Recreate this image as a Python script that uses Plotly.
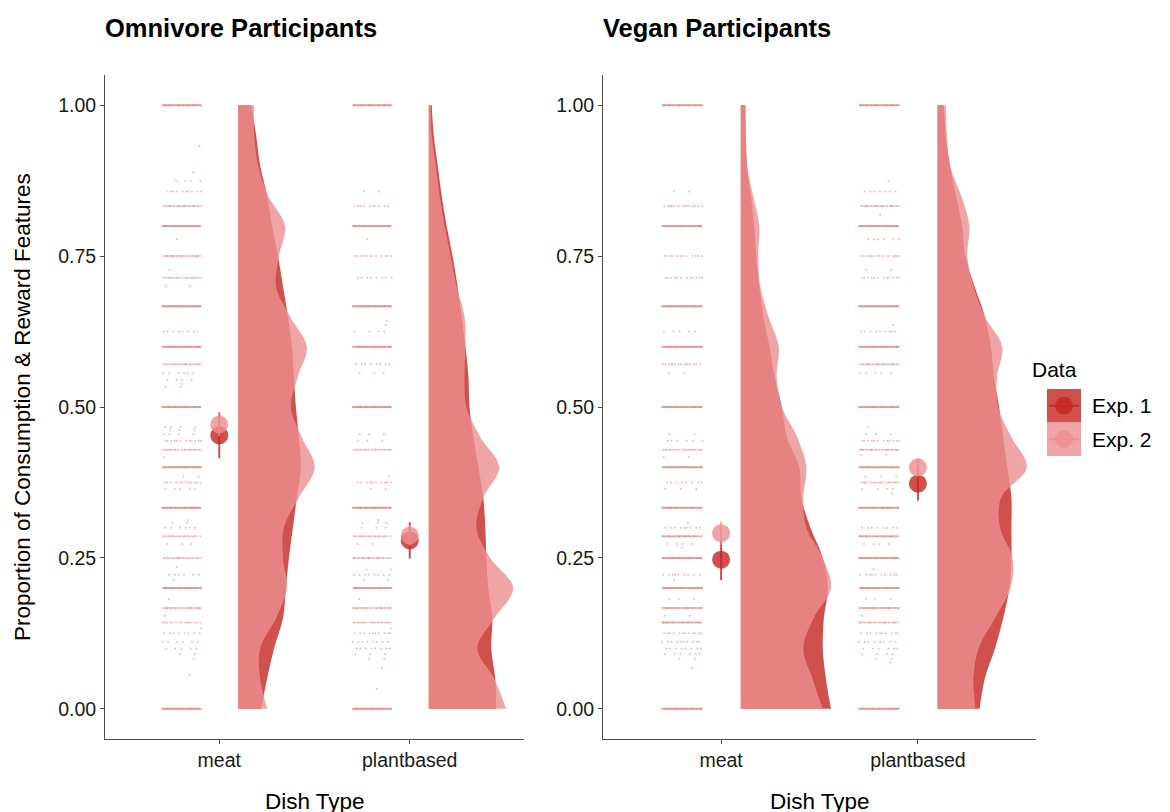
import plotly.graph_objects as go

# ---------------- data ----------------
categories = ["meat", "plantbased"]
panel_titles = ["Omnivore Participants", "Vegan Participants"]
exp_names = ["Exp. 1", "Exp. 2"]
y_ticks = [0.0, 0.25, 0.5, 0.75, 1.0]
y_ticktext = ["0.00", "0.25", "0.50", "0.75", "1.00"]

# raw observations: value levels and number of participants at each level
om_meat_vals = [1.0, 0.933, 0.889, 0.875, 0.857, 0.833, 0.8, 0.778, 0.75, 0.727, 0.714, 0.7, 0.667, 0.625, 0.6,
                0.571, 0.556, 0.545, 0.538, 0.533, 0.5, 0.467, 0.462, 0.455, 0.444, 0.429, 0.417, 0.4, 0.385,
                0.375, 0.364, 0.333, 0.313, 0.308, 0.3, 0.286, 0.273, 0.25, 0.235, 0.222, 0.214, 0.2, 0.182,
                0.167, 0.154, 0.143, 0.133, 0.125, 0.111, 0.1, 0.091, 0.083, 0.056, 0.0]
om_meat_n = [60, 1, 1, 4, 10, 25, 60, 1, 25, 1, 20, 2, 60, 8, 60, 22, 6, 4, 1, 2, 60, 4, 3, 4, 12, 20, 1, 60, 2,
             12, 5, 60, 1, 2, 6, 20, 3, 22, 1, 6, 1, 60, 1, 25, 1, 15, 1, 8, 6, 5, 2, 1, 1, 60]

om_plant_vals = [1.0, 0.857, 0.833, 0.8, 0.778, 0.75, 0.714, 0.667, 0.643, 0.636, 0.625, 0.6, 0.571, 0.556, 0.5,
                 0.455, 0.444, 0.429, 0.385, 0.375, 0.364, 0.333, 0.313, 0.308, 0.3, 0.286, 0.273, 0.25, 0.231,
                 0.222, 0.214, 0.2, 0.182, 0.167, 0.143, 0.133, 0.125, 0.111, 0.1, 0.091, 0.083, 0.067, 0.033, 0.0]
om_plant_n = [60, 2, 10, 60, 1, 12, 8, 60, 1, 1, 4, 60, 8, 3, 60, 3, 3, 20, 1, 10, 2, 60, 1, 3, 3, 20, 2, 25, 2,
              8, 2, 60, 1, 25, 20, 1, 10, 8, 8, 3, 2, 1, 1, 60]

vg_meat_vals = [1.0, 0.857, 0.833, 0.8, 0.75, 0.714, 0.667, 0.625, 0.6, 0.571, 0.556, 0.5, 0.455, 0.444, 0.429,
                0.417, 0.4, 0.375, 0.364, 0.333, 0.308, 0.3, 0.286, 0.273, 0.267, 0.25, 0.222, 0.214, 0.2, 0.182,
                0.167, 0.154, 0.143, 0.125, 0.111, 0.1, 0.091, 0.083, 0.067, 0.0]
vg_meat_n = [60, 2, 15, 60, 12, 12, 60, 5, 60, 15, 2, 60, 2, 6, 20, 2, 60, 8, 3, 60, 1, 9, 40, 4, 1, 60, 9, 1, 60,
             3, 40, 2, 40, 12, 10, 8, 6, 2, 1, 60]

vg_plant_vals = [1.0, 0.875, 0.857, 0.833, 0.818, 0.8, 0.778, 0.75, 0.727, 0.714, 0.667, 0.636, 0.625, 0.6, 0.571,
                 0.556, 0.5, 0.467, 0.455, 0.444, 0.429, 0.421, 0.4, 0.385, 0.375, 0.364, 0.357, 0.333, 0.3, 0.286,
                 0.273, 0.25, 0.231, 0.222, 0.2, 0.182, 0.167, 0.154, 0.143, 0.125, 0.111, 0.1, 0.091, 0.083,
                 0.077, 0.0]
vg_plant_n = [60, 1, 7, 25, 1, 60, 6, 15, 2, 12, 60, 1, 9, 60, 25, 5, 60, 1, 3, 12, 25, 2, 60, 3, 18, 4, 1, 60, 8,
              40, 4, 60, 1, 10, 60, 3, 40, 1, 25, 10, 8, 6, 4, 2, 1, 60]

# half-violin density profiles (arbitrary units) at these proportion levels
dens_y = [0.00, 0.05, 0.10, 0.15, 0.20, 0.25, 0.30, 0.35, 0.40, 0.45, 0.50,
          0.55, 0.60, 0.65, 0.70, 0.75, 0.80, 0.85, 0.90, 0.95, 1.00]
om_meat_exp1_dens = [23, 29, 36, 45, 48, 51, 55, 59, 63, 61, 58, 56, 54, 50, 45, 40, 34, 29, 22, 18, 13]
om_meat_exp2_dens = [29, 22, 22, 38, 49, 45, 46, 61, 77, 64, 53, 60, 69, 52, 38, 41, 47, 30, 20, 16, 16]
om_plant_exp1_dens = [68, 67, 63, 64, 60, 58, 57, 55, 50, 45, 41, 40, 37, 33, 29, 24, 18, 13, 9, 5, 3]
om_plant_exp2_dens = [78, 66, 49, 66, 85, 62, 48, 55, 71, 52, 38, 36, 37, 36, 28, 22, 16, 11, 7, 3, 2]
vg_meat_exp1_dens = [88, 83, 80, 81, 85, 80, 68, 59, 57, 45, 40, 33, 28, 22, 18, 15, 13, 10, 6, 5, 4]
vg_meat_exp2_dens = [80, 70, 61, 71, 88, 80, 64, 61, 64, 55, 40, 35, 37, 27, 19, 17, 18, 12, 6, 5, 5]
vg_plant_exp1_dens = [41, 46, 56, 64, 70, 72, 72, 72, 68, 64, 60, 55, 52, 46, 36, 27, 24, 18, 12, 8, 6]
vg_plant_exp2_dens = [37, 35, 40, 56, 71, 73, 61, 62, 87, 72, 59, 58, 63, 46, 35, 29, 31, 23, 12, 9, 8]

# means and confidence limits, ordered [meat, plantbased]
om_exp1_mean = [0.453, 0.279]
om_exp1_lo = [0.415, 0.249]
om_exp1_hi = [0.491, 0.309]
om_exp2_mean = [0.471, 0.287]
om_exp2_lo = [0.452, 0.270]
om_exp2_hi = [0.490, 0.305]
vg_exp1_mean = [0.247, 0.373]
vg_exp1_lo = [0.213, 0.345]
vg_exp1_hi = [0.281, 0.401]
vg_exp2_mean = [0.291, 0.400]
vg_exp2_lo = [0.272, 0.385]
vg_exp2_hi = [0.310, 0.415]

# ---------------- styling ----------------
W, H = 1170, 812
OFF = 8  # page body margin of the html page
FONT = "Liberation Sans, Arial, sans-serif"
EXP_COLORS = ["rgba(196,36,31,0.8)", "rgba(235,142,142,0.8)"]
DOT_COLOR = "rgba(232,118,118,0.5)"
DENS_SCALE = 1 / 192.0
VIOLIN_OFFSET = 0.10
JITTER_LEFT = 0.30
JITTER_WIDTH = 0.205
TICK_SIZE = 19.5
TITLE_SIZE = 22.5

panels = [
    dict(x="x", y="y",
         points=[(om_meat_vals, om_meat_n), (om_plant_vals, om_plant_n)],
         dens=[[om_meat_exp1_dens, om_meat_exp2_dens], [om_plant_exp1_dens, om_plant_exp2_dens]],
         means=[(om_exp1_mean, om_exp1_lo, om_exp1_hi), (om_exp2_mean, om_exp2_lo, om_exp2_hi)]),
    dict(x="x2", y="y2",
         points=[(vg_meat_vals, vg_meat_n), (vg_plant_vals, vg_plant_n)],
         dens=[[vg_meat_exp1_dens, vg_meat_exp2_dens], [vg_plant_exp1_dens, vg_plant_exp2_dens]],
         means=[(vg_exp1_mean, vg_exp1_lo, vg_exp1_hi), (vg_exp2_mean, vg_exp2_lo, vg_exp2_hi)]),
]

fig = go.Figure()

for p in panels:
    # jittered raw points (deterministic low-discrepancy spread)
    for ci, (vals, ns) in enumerate(p["points"]):
        assert len(vals) == len(ns)
        cat = ci + 1
        xs, ys = [], []
        for v, n in zip(vals, ns):
            for i in range(n):
                u = (0.5 + v * 3.7 + i * 0.6180339887) % 1.0
                xs.append(cat - JITTER_LEFT + u * JITTER_WIDTH)
                ys.append(v)
        fig.add_trace(go.Scatter(x=xs, y=ys, mode="markers", xaxis=p["x"], yaxis=p["y"],
                                 marker=dict(size=2, color=DOT_COLOR, line=dict(width=0)),
                                 showlegend=False, hoverinfo="skip"))
    # half violins
    for ci, pair in enumerate(p["dens"]):
        cat = ci + 1
        base = cat + VIOLIN_OFFSET
        for ei, d in enumerate(pair):
            assert len(d) == len(dens_y)
            fig.add_trace(go.Scatter(x=[base, base], y=[dens_y[0], dens_y[-1]], mode="lines",
                                     xaxis=p["x"], yaxis=p["y"], line=dict(width=0),
                                     showlegend=False, hoverinfo="skip"))
            fig.add_trace(go.Scatter(x=[base + w * DENS_SCALE for w in d], y=dens_y, mode="lines",
                                     xaxis=p["x"], yaxis=p["y"],
                                     line=dict(width=0, shape="spline", smoothing=1.0),
                                     fill="tonextx", fillcolor=EXP_COLORS[ei],
                                     showlegend=False, hoverinfo="skip"))
    # means with CI
    for ei, (m, lo, hi) in enumerate(p["means"]):
        fig.add_trace(go.Scatter(
            x=[1, 2], y=m, mode="markers", xaxis=p["x"], yaxis=p["y"], name=exp_names[ei],
            marker=dict(size=18, color=EXP_COLORS[ei], line=dict(width=0)),
            error_y=dict(type="data", symmetric=False,
                         array=[h - a for h, a in zip(hi, m)],
                         arrayminus=[a - l for a, l in zip(m, lo)],
                         width=0, thickness=2, color=EXP_COLORS[ei]),
            showlegend=False, hoverinfo="skip"))


def px(x):
    return (x - OFF) / W


def py(y):
    return 1 - (y - OFF) / H


axis_common = dict(showline=True, linecolor="#4d4d4d", linewidth=1, ticks="outside", ticklen=4,
                   tickcolor="#4d4d4d", tickwidth=1, showgrid=False, zeroline=False,
                   tickfont=dict(family=FONT, size=TICK_SIZE, color="#1a1a1a"), fixedrange=True)

x_domains = [[px(105), px(524)], [px(603), px(1036)]]
y_domain = [py(739), py(75)]

fig.update_layout(
    width=W, height=H, margin=dict(l=0, r=0, t=0, b=0),
    paper_bgcolor="white", plot_bgcolor="white", showlegend=False, hovermode=False,
    xaxis=dict(domain=x_domains[0], range=[0.4, 2.6], tickvals=[1, 2], ticktext=categories,
               anchor="y", **axis_common),
    yaxis=dict(domain=y_domain, range=[-0.05, 1.05], tickvals=y_ticks, ticktext=y_ticktext,
               anchor="x", **axis_common),
    xaxis2=dict(domain=x_domains[1], range=[0.4, 2.6], tickvals=[1, 2], ticktext=categories,
                anchor="y2", **axis_common),
    yaxis2=dict(domain=y_domain, range=[-0.05, 1.05], tickvals=y_ticks, ticktext=y_ticktext,
                anchor="x2", **axis_common),
)

ann = []
ann.append(dict(text="<b>%s</b>" % panel_titles[0], x=px(103), y=py(28), xanchor="left", yanchor="middle",
                font=dict(family=FONT, size=25.5, color="black")))
ann.append(dict(text="<b>%s</b>" % panel_titles[1], x=px(601), y=py(28), xanchor="left", yanchor="middle",
                font=dict(family=FONT, size=25.5, color="black")))
ann.append(dict(text="Proportion of Consumption &amp; Reward Features", x=px(22), y=py(407), textangle=-90,
                xanchor="center", yanchor="middle", font=dict(family=FONT, size=TITLE_SIZE, color="black")))
ann.append(dict(text="Dish Type", x=px(315), y=py(801), xanchor="center", yanchor="middle",
                font=dict(family=FONT, size=TITLE_SIZE, color="black")))
ann.append(dict(text="Dish Type", x=px(819.5), y=py(801), xanchor="center", yanchor="middle",
                font=dict(family=FONT, size=TITLE_SIZE, color="black")))
ann.append(dict(text="Data", x=px(1030), y=py(370), xanchor="left", yanchor="middle",
                font=dict(family=FONT, size=21, color="black")))

shapes = []
key_tops = [389, 422.5]
for ei, top in enumerate(key_tops):
    bot = top + 33.5
    cy = (top + bot) / 2
    shapes.append(dict(type="rect", xref="paper", yref="paper", x0=px(1047), x1=px(1081),
                       y0=py(bot), y1=py(top), fillcolor=EXP_COLORS[ei], line=dict(width=0)))
    shapes.append(dict(type="line", xref="paper", yref="paper", x0=px(1049), x1=px(1079),
                       y0=py(cy), y1=py(cy), line=dict(color=EXP_COLORS[ei], width=2)))
    shapes.append(dict(type="circle", xref="paper", yref="paper", x0=px(1064 - 9), x1=px(1064 + 9),
                       y0=py(cy + 9), y1=py(cy - 9), fillcolor=EXP_COLORS[ei], line=dict(width=0)))
    ann.append(dict(text=exp_names[ei], x=px(1090), y=py(cy), xanchor="left", yanchor="middle",
                    font=dict(family=FONT, size=21, color="black")))

for a in ann:
    a.update(xref="paper", yref="paper", showarrow=False)

fig.update_layout(annotations=ann, shapes=shapes)
fig.write_html("out.html")
